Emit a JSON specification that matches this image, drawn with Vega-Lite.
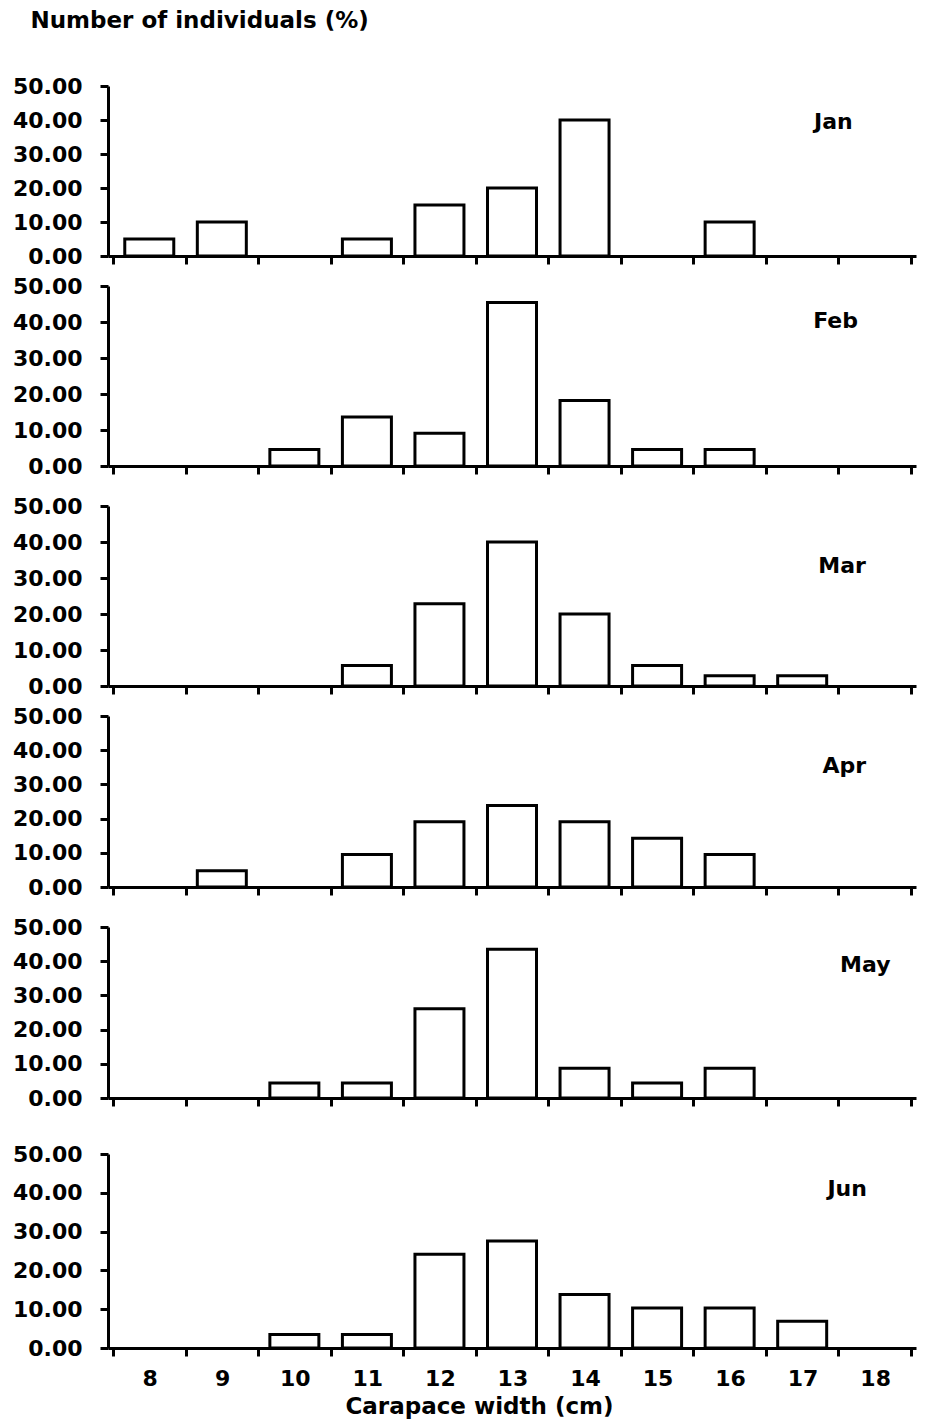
{
  "$schema": "https://vega.github.io/schema/vega-lite/v6.json",
  "padding": {"left": 12, "top": 10, "right": 4, "bottom": 4},
  "background": "white",
  "title": {"text": "Number of individuals (%)", "anchor": "start", "dx": 18, "fontSize": 23, "font": "DejaVu Sans", "fontWeight": "bold", "color": "black", "offset": 42},
  "datasets": {
    "freq": [
      {"month": "Jan", "cw": 8, "pct": 5},
      {"month": "Jan", "cw": 9, "pct": 10},
      {"month": "Jan", "cw": 11, "pct": 5},
      {"month": "Jan", "cw": 12, "pct": 15},
      {"month": "Jan", "cw": 13, "pct": 20},
      {"month": "Jan", "cw": 14, "pct": 40},
      {"month": "Jan", "cw": 16, "pct": 10},
      {"month": "Feb", "cw": 10, "pct": 4.55},
      {"month": "Feb", "cw": 11, "pct": 13.64},
      {"month": "Feb", "cw": 12, "pct": 9.09},
      {"month": "Feb", "cw": 13, "pct": 45.45},
      {"month": "Feb", "cw": 14, "pct": 18.18},
      {"month": "Feb", "cw": 15, "pct": 4.55},
      {"month": "Feb", "cw": 16, "pct": 4.55},
      {"month": "Mar", "cw": 11, "pct": 5.71},
      {"month": "Mar", "cw": 12, "pct": 22.86},
      {"month": "Mar", "cw": 13, "pct": 40},
      {"month": "Mar", "cw": 14, "pct": 20},
      {"month": "Mar", "cw": 15, "pct": 5.71},
      {"month": "Mar", "cw": 16, "pct": 2.86},
      {"month": "Mar", "cw": 17, "pct": 2.86},
      {"month": "Apr", "cw": 9, "pct": 4.76},
      {"month": "Apr", "cw": 11, "pct": 9.52},
      {"month": "Apr", "cw": 12, "pct": 19.05},
      {"month": "Apr", "cw": 13, "pct": 23.81},
      {"month": "Apr", "cw": 14, "pct": 19.05},
      {"month": "Apr", "cw": 15, "pct": 14.29},
      {"month": "Apr", "cw": 16, "pct": 9.52},
      {"month": "May", "cw": 10, "pct": 4.35},
      {"month": "May", "cw": 11, "pct": 4.35},
      {"month": "May", "cw": 12, "pct": 26.09},
      {"month": "May", "cw": 13, "pct": 43.48},
      {"month": "May", "cw": 14, "pct": 8.7},
      {"month": "May", "cw": 15, "pct": 4.35},
      {"month": "May", "cw": 16, "pct": 8.7},
      {"month": "Jun", "cw": 10, "pct": 3.45},
      {"month": "Jun", "cw": 11, "pct": 3.45},
      {"month": "Jun", "cw": 12, "pct": 24.14},
      {"month": "Jun", "cw": 13, "pct": 27.59},
      {"month": "Jun", "cw": 14, "pct": 13.79},
      {"month": "Jun", "cw": 15, "pct": 10.34},
      {"month": "Jun", "cw": 16, "pct": 10.34},
      {"month": "Jun", "cw": 17, "pct": 6.9}
    ]
  },
  "config": {
    "view": {"stroke": null},
    "axis": {
      "grid": false,
      "domainColor": "black",
      "domainWidth": 3,
      "tickColor": "black",
      "tickWidth": 3,
      "tickSize": 8,
      "labelFont": "DejaVu Sans",
      "labelFontWeight": "bold",
      "labelFontSize": 22,
      "labelColor": "black",
      "labelOverlap": false,
      "titleFont": "DejaVu Sans",
      "titleFontWeight": "bold",
      "titleFontSize": 23,
      "titleColor": "black"
    },
    "text": {"font": "DejaVu Sans", "fontWeight": "bold", "fontSize": 22, "color": "black"},
    "bar": {"fill": "white", "stroke": "black", "strokeWidth": 3, "width": 49}
  },
  "vconcat": [
    {
      "spacing": 18,
      "vconcat": [
        {
          "spacing": 8,
          "vconcat": [
            {
              "width": 808, "height": 170,
              "layer": [
                {"data": {"name": "freq"}, "transform": [{"filter": "datum.month === 'Jan'"}],
                 "mark": {"type": "bar"},
                 "encoding": {
                   "x": {"field": "cw", "type": "quantitative", "scale": {"domain": [7.5, 18.5], "nice": false, "zero": false},
                         "axis": {"values": [7.5, 8.5, 9.5, 10.5, 11.5, 12.5, 13.5, 14.5, 15.5, 16.5, 17.5, 18.5], "labels": false, "title": null}},
                   "y": {"field": "pct", "type": "quantitative", "scale": {"domain": [0, 50], "nice": false},
                         "axis": {"values": [0, 10, 20, 30, 40, 50], "format": ".2f", "labelPadding": 18, "title": null}}
                 }},
                {"data": {"values": [{"month": "Jan"}]},
                 "mark": {"type": "text"},
                 "encoding": {"x": {"datum": 17.43, "type": "quantitative", "axis": {"values": [7.5, 8.5, 9.5, 10.5, 11.5, 12.5, 13.5, 14.5, 15.5, 16.5, 17.5, 18.5], "labels": false, "title": null}},
                              "y": {"datum": 39.4, "type": "quantitative", "axis": {"values": [0, 10, 20, 30, 40, 50], "format": ".2f", "labelPadding": 18, "title": null}},
                              "text": {"field": "month"}}}
              ]
            },
            {
              "width": 808, "height": 180,
              "layer": [
                {"data": {"name": "freq"}, "transform": [{"filter": "datum.month === 'Feb'"}],
                 "mark": {"type": "bar"},
                 "encoding": {
                   "x": {"field": "cw", "type": "quantitative", "scale": {"domain": [7.5, 18.5], "nice": false, "zero": false},
                         "axis": {"values": [7.5, 8.5, 9.5, 10.5, 11.5, 12.5, 13.5, 14.5, 15.5, 16.5, 17.5, 18.5], "labels": false, "title": null}},
                   "y": {"field": "pct", "type": "quantitative", "scale": {"domain": [0, 50], "nice": false},
                         "axis": {"values": [0, 10, 20, 30, 40, 50], "format": ".2f", "labelPadding": 18, "title": null}}
                 }},
                {"data": {"values": [{"month": "Feb"}]},
                 "mark": {"type": "text"},
                 "encoding": {"x": {"datum": 17.46, "type": "quantitative", "axis": {"values": [7.5, 8.5, 9.5, 10.5, 11.5, 12.5, 13.5, 14.5, 15.5, 16.5, 17.5, 18.5], "labels": false, "title": null}},
                              "y": {"datum": 40.3, "type": "quantitative", "axis": {"values": [0, 10, 20, 30, 40, 50], "format": ".2f", "labelPadding": 18, "title": null}},
                              "text": {"field": "month"}}}
              ]
            }
          ]
        },
        {
          "spacing": 8,
          "vconcat": [
            {
              "width": 808, "height": 180,
              "layer": [
                {"data": {"name": "freq"}, "transform": [{"filter": "datum.month === 'Mar'"}],
                 "mark": {"type": "bar"},
                 "encoding": {
                   "x": {"field": "cw", "type": "quantitative", "scale": {"domain": [7.5, 18.5], "nice": false, "zero": false},
                         "axis": {"values": [7.5, 8.5, 9.5, 10.5, 11.5, 12.5, 13.5, 14.5, 15.5, 16.5, 17.5, 18.5], "labels": false, "title": null}},
                   "y": {"field": "pct", "type": "quantitative", "scale": {"domain": [0, 50], "nice": false},
                         "axis": {"values": [0, 10, 20, 30, 40, 50], "format": ".2f", "labelPadding": 18, "title": null}}
                 }},
                {"data": {"values": [{"month": "Mar"}]},
                 "mark": {"type": "text"},
                 "encoding": {"x": {"datum": 17.55, "type": "quantitative", "axis": {"values": [7.5, 8.5, 9.5, 10.5, 11.5, 12.5, 13.5, 14.5, 15.5, 16.5, 17.5, 18.5], "labels": false, "title": null}},
                              "y": {"datum": 33.3, "type": "quantitative", "axis": {"values": [0, 10, 20, 30, 40, 50], "format": ".2f", "labelPadding": 18, "title": null}},
                              "text": {"field": "month"}}}
              ]
            },
            {
              "width": 808, "height": 171,
              "layer": [
                {"data": {"name": "freq"}, "transform": [{"filter": "datum.month === 'Apr'"}],
                 "mark": {"type": "bar"},
                 "encoding": {
                   "x": {"field": "cw", "type": "quantitative", "scale": {"domain": [7.5, 18.5], "nice": false, "zero": false},
                         "axis": {"values": [7.5, 8.5, 9.5, 10.5, 11.5, 12.5, 13.5, 14.5, 15.5, 16.5, 17.5, 18.5], "labels": false, "title": null}},
                   "y": {"field": "pct", "type": "quantitative", "scale": {"domain": [0, 50], "nice": false},
                         "axis": {"values": [0, 10, 20, 30, 40, 50], "format": ".2f", "labelPadding": 18, "title": null}}
                 }},
                {"data": {"values": [{"month": "Apr"}]},
                 "mark": {"type": "text"},
                 "encoding": {"x": {"datum": 17.58, "type": "quantitative", "axis": {"values": [7.5, 8.5, 9.5, 10.5, 11.5, 12.5, 13.5, 14.5, 15.5, 16.5, 17.5, 18.5], "labels": false, "title": null}},
                              "y": {"datum": 35.4, "type": "quantitative", "axis": {"values": [0, 10, 20, 30, 40, 50], "format": ".2f", "labelPadding": 18, "title": null}},
                              "text": {"field": "month"}}}
              ]
            }
          ]
        },
        {
          "spacing": 34,
          "vconcat": [
            {
              "width": 808, "height": 171,
              "layer": [
                {"data": {"name": "freq"}, "transform": [{"filter": "datum.month === 'May'"}],
                 "mark": {"type": "bar"},
                 "encoding": {
                   "x": {"field": "cw", "type": "quantitative", "scale": {"domain": [7.5, 18.5], "nice": false, "zero": false},
                         "axis": {"values": [7.5, 8.5, 9.5, 10.5, 11.5, 12.5, 13.5, 14.5, 15.5, 16.5, 17.5, 18.5], "labels": false, "title": null}},
                   "y": {"field": "pct", "type": "quantitative", "scale": {"domain": [0, 50], "nice": false},
                         "axis": {"values": [0, 10, 20, 30, 40, 50], "format": ".2f", "labelPadding": 18, "title": null}}
                 }},
                {"data": {"values": [{"month": "May"}]},
                 "mark": {"type": "text"},
                 "encoding": {"x": {"datum": 17.87, "type": "quantitative", "axis": {"values": [7.5, 8.5, 9.5, 10.5, 11.5, 12.5, 13.5, 14.5, 15.5, 16.5, 17.5, 18.5], "labels": false, "title": null}},
                              "y": {"datum": 38.9, "type": "quantitative", "axis": {"values": [0, 10, 20, 30, 40, 50], "format": ".2f", "labelPadding": 18, "title": null}},
                              "text": {"field": "month"}}}
              ]
            },
            {
              "width": 808, "height": 194,
              "layer": [
                {"data": {"name": "freq"}, "transform": [{"filter": "datum.month === 'Jun'"}],
                 "mark": {"type": "bar"},
                 "encoding": {
                   "x": {"field": "cw", "type": "quantitative", "scale": {"domain": [7.5, 18.5], "nice": false, "zero": false},
                         "axis": {"values": [7.5, 8.5, 9.5, 10.5, 11.5, 12.5, 13.5, 14.5, 15.5, 16.5, 17.5, 18.5],
                                  "labelExpr": "datum.value < 18 ? format(datum.value + 0.5, 'd') : ''",
                                  "labelOffset": 36.7, "labelFlush": false, "labelPadding": 12,
                                  "title": "Carapace width (cm)", "titlePadding": 6, "titleX": 371}},
                   "y": {"field": "pct", "type": "quantitative", "scale": {"domain": [0, 50], "nice": false},
                         "axis": {"values": [0, 10, 20, 30, 40, 50], "format": ".2f", "labelPadding": 18, "title": null}}
                 }},
                {"data": {"values": [{"month": "Jun"}]},
                 "mark": {"type": "text"},
                 "encoding": {"x": {"datum": 17.62, "type": "quantitative", "axis": {"values": [7.5, 8.5, 9.5, 10.5, 11.5, 12.5, 13.5, 14.5, 15.5, 16.5, 17.5, 18.5],
                                  "labelExpr": "datum.value < 18 ? format(datum.value + 0.5, 'd') : ''",
                                  "labelOffset": 36.7, "labelFlush": false, "labelPadding": 12,
                                  "title": "Carapace width (cm)", "titlePadding": 6, "titleX": 371}},
                              "y": {"datum": 41, "type": "quantitative", "axis": {"values": [0, 10, 20, 30, 40, 50], "format": ".2f", "labelPadding": 18, "title": null}},
                              "text": {"field": "month"}}}
              ]
            }
          ]
        }
      ]
    }
  ]
}
